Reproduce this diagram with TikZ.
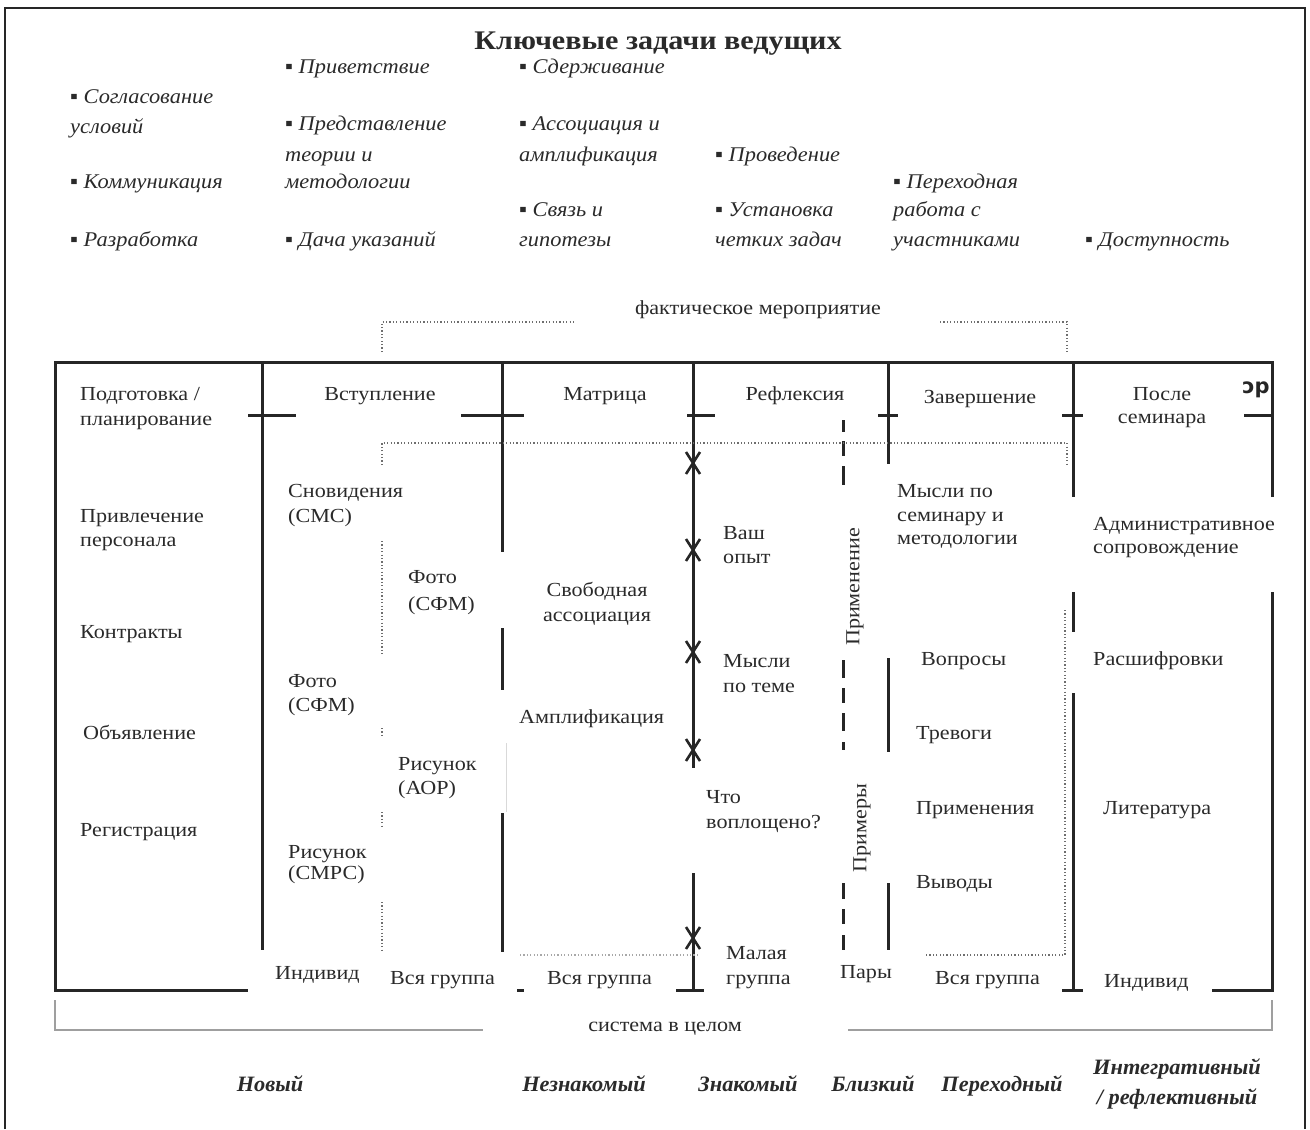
\documentclass[tikz,border=0pt]{standalone}
\usepackage{fontspec}
\setmainfont[FakeStretch=1.11]{Liberation Serif}
\newfontfamily\titlefont[FakeStretch=1.12]{Liberation Serif}
\newfontfamily\taskfont[FakeStretch=1.07]{Liberation Serif}
\newfontfamily\phasefont[FakeStretch=1.02]{Liberation Serif}
\newfontfamily\glyphfont{DejaVu Sans}
\definecolor{txtc}{HTML}{2A2A2A}
\definecolor{linec}{HTML}{262626}
\definecolor{dotc}{HTML}{6E6E6E}
\begin{document}
\begin{tikzpicture}[x=1bp,y=-1bp,
  lab/.style={anchor=base west,inner sep=0pt,text=txtc,font=\fontsize{20}{24}\selectfont},
  labc/.style={lab,anchor=base},
  task/.style={anchor=base west,inner sep=0pt,text=txtc,font=\taskfont\fontsize{21}{24}\selectfont\itshape},
  phase/.style={anchor=base,inner sep=0pt,text=txtc,font=\phasefont\fontsize{22}{26}\selectfont\bfseries\itshape},
  bar/.style={draw=linec,line width=3bp},
  dashbar/.style={draw=linec,line width=3bp},
  dots/.style={draw=dotc,line width=1.8bp,dash pattern=on 1.2bp off 2.2bp},
  faint/.style={draw=gray!30,line width=1bp},
  brace/.style={draw=gray!75,line width=1.6bp}]
\useasboundingbox (0,0) rectangle (1310,1129);

% outer frame
\draw[draw=linec,line width=2.5bp] (5,1129) -- (5,8) -- (1305,8) -- (1305,1129);

% title and tasks of the leaders
\node[anchor=base,inner sep=0pt,text=txtc,font=\titlefont\fontsize{27}{30}\selectfont\bfseries] (title) at (658,49) {Ключевые задачи ведущих};

\node[task] (a1) at (70,103) {▪ Согласование};
\node[task] (a2) at (70,133) {условий};
\node[task] (a3) at (70,188) {▪ Коммуникация};
\node[task] (a4) at (70,246) {▪ Разработка};

\node[task] (b1) at (285,73) {▪ Приветствие};
\node[task] (b2) at (285,130) {▪ Представление};
\node[task] (b3) at (285,161) {теории и};
\node[task] (b4) at (285,188) {методологии};
\node[task] (b5) at (285,246) {▪ Дача указаний};

\node[task] (c1) at (519,73) {▪ Сдерживание};
\node[task] (c2) at (519,130) {▪ Ассоциация и};
\node[task] (c3) at (519,161) {амплификация};
\node[task] (c4) at (519,216) {▪ Связь и};
\node[task] (c5) at (519,246) {гипотезы};

\node[task] (d1) at (715,161) {▪ Проведение};
\node[task] (d2) at (715,216) {▪ Установка};
\node[task] (d3) at (715,246) {четких задач};

\node[task] (e1) at (893,188) {▪ Переходная};
\node[task] (e2) at (893,216) {работа с};
\node[task] (e3) at (893,246) {участниками};

\node[task] (f1) at (1085,246) {▪ Доступность};

% actual event bracket
\node[labc] (event) at (758,314) {фактическое мероприятие};
\draw[dots] (382,352) -- (382,322) -- (575,322);
\draw[dots] (940,322) -- (1067,322) -- (1067,352);

% main frame
\draw[bar] (1272,497) -- (1272,362) -- (55,362) -- (55,990) -- (248,990);
\draw[bar] (1244,415) -- (1272,415);
\draw[bar] (1272,592) -- (1272,990) -- (1212,990);

% divider between preparation and introduction
\draw[bar] (262,362) -- (262,950);
\draw[bar] (248,415) -- (296,415);

% divider between introduction and matrix
\draw[bar] (502,362) -- (502,552);
\draw[bar] (502,628) -- (502,690);
\draw[bar] (502,813) -- (502,952);
\draw[bar] (461,415) -- (524,415);
\draw[bar] (517,990) -- (524,990);
\draw[faint] (506,743) -- (506,812);

% divider between matrix and reflection, with arrow marks
\draw[bar] (693,362) -- (693,768);
\draw[bar] (693,873) -- (693,990);
\draw[bar] (687,415) -- (715,415);
\draw[bar] (676,990) -- (704,990);
\foreach \yy in {463,550,652,750,938}{
  \draw[draw=linec,line width=2.6bp,line join=miter]
    (686,\yy-11) -- (693,\yy) -- (700,\yy-11)
    (686,\yy+11) -- (693,\yy) -- (700,\yy+11);
}

% dashed divider inside reflection
\foreach \ya/\yb in {420/432,441/456,466/485,660/678,688/703,713/731,742/750,883/899,909/924,935/950}{
  \draw[dashbar] (843,\ya) -- (843,\yb);
}
\node[inner sep=0pt,text=txtc,font=\fontsize{20}{24}\selectfont,rotate=90] (apply) at (855,587) {Применение};
\node[inner sep=0pt,text=txtc,font=\fontsize{20}{24}\selectfont,rotate=90] (examples) at (862,828) {Примеры};

% divider of completion
\draw[bar] (888,362) -- (888,464);
\draw[bar] (878,415) -- (898,415);
\draw[bar] (888,658) -- (888,752);
\draw[bar] (888,883) -- (888,950);

% divider of after-seminar
\draw[bar] (1073,362) -- (1073,497);
\draw[bar] (1073,592) -- (1073,632);
\draw[bar] (1073,693) -- (1073,990);
\draw[bar] (1062,415) -- (1083,415);
\draw[bar] (1062,990) -- (1083,990);

% dotted guides
\draw[dots] (382,465) -- (382,443) -- (1067,443) -- (1067,465);
\draw[dots] (382,541) -- (382,654);
\draw[dots] (382,728) -- (382,738);
\draw[dots] (382,812) -- (382,826);
\draw[dots] (382,902) -- (382,953);
\draw[dots,draw=dotc!60] (520,955) -- (700,955);
\draw[dots] (1065,610) -- (1065,955) -- (925,955);

% whole-system bracket
\draw[brace] (55,1000) -- (55,1030) -- (483,1030);
\draw[brace] (848,1030) -- (1272,1030) -- (1272,1000);
\node[labc] (system) at (665,1031) {система в целом};

% column headers
\node[lab] (h1a) at (80,400) {Подготовка /};
\node[lab] (h1b) at (80,425) {планирование};
\node[labc] (h2) at (380,400) {Вступление};
\node[labc] (h3) at (605,400) {Матрица};
\node[labc] (h4) at (795,400) {Рефлексия};
\node[labc] (h5) at (980,403) {Завершение};
\node[labc] (h6a) at (1162,400) {После};
\node[labc] (h6b) at (1162,423) {семинара};
\node[inner sep=0pt,text=linec,font=\glyphfont\bfseries\fontsize{21}{24}\selectfont] (frag) at (1256,390) {ɔp};

% preparation
\node[lab] (p1) at (80,522) {Привлечение};
\node[lab] (p2) at (80,546) {персонала};
\node[lab] (p3) at (80,638) {Контракты};
\node[lab] (p4) at (83,739) {Объявление};
\node[lab] (p5) at (80,836) {Регистрация};

% introduction
\node[lab] (i1) at (288,497) {Сновидения};
\node[lab] (i2) at (288,522) {(СМС)};
\node[lab] (i3) at (408,583) {Фото};
\node[lab] (i4) at (408,610) {(СФМ)};
\node[lab] (i5) at (288,687) {Фото};
\node[lab] (i6) at (288,711) {(СФМ)};
\node[lab] (i7) at (398,770) {Рисунок};
\node[lab] (i8) at (398,794) {(АОР)};
\node[lab] (i9) at (288,858) {Рисунок};
\node[lab] (i10) at (288,879) {(СМРС)};
\node[lab] (i11) at (275,979) {Индивид};
\node[lab] (i12) at (390,984) {Вся группа};

% matrix
\node[labc] (m1) at (597,596) {Свободная};
\node[labc] (m2) at (597,621) {ассоциация};
\node[lab] (m3) at (519,723) {Амплификация};
\node[lab] (m4) at (547,984) {Вся группа};

% reflection
\node[lab] (r1) at (723,539) {Ваш};
\node[lab] (r2) at (723,563) {опыт};
\node[lab] (r3) at (723,667) {Мысли};
\node[lab] (r4) at (723,692) {по теме};
\node[lab] (r5) at (706,803) {Что};
\node[lab] (r6) at (706,828) {воплощено?};
\node[lab] (r7) at (726,959) {Малая};
\node[lab] (r8) at (726,984) {группа};
\node[labc] (r9) at (866,978) {Пары};

% completion
\node[lab] (z1) at (897,497) {Мысли по};
\node[lab] (z2) at (897,521) {семинару и};
\node[lab] (z3) at (897,544) {методологии};
\node[lab] (z4) at (921,665) {Вопросы};
\node[lab] (z5) at (916,739) {Тревоги};
\node[lab] (z6) at (916,814) {Применения};
\node[lab] (z7) at (916,888) {Выводы};
\node[lab] (z8) at (935,984) {Вся группа};

% after the seminar
\node[lab] (s1) at (1093,530) {Административное};
\node[lab] (s2) at (1093,553) {сопровождение};
\node[lab] (s3) at (1093,665) {Расшифровки};
\node[lab] (s4) at (1103,814) {Литература};
\node[lab] (s5) at (1104,987) {Индивид};

% phases of the group
\node[phase] (q1) at (270,1091) {Новый};
\node[phase] (q2) at (584,1091) {Незнакомый};
\node[phase] (q3) at (748,1091) {Знакомый};
\node[phase] (q4) at (873,1091) {Близкий};
\node[phase] (q5) at (1002,1091) {Переходный};
\node[phase] (q6a) at (1177,1074) {Интегративный};
\node[phase] (q6b) at (1177,1104) {/ рефлективный};
\end{tikzpicture}
\end{document}
